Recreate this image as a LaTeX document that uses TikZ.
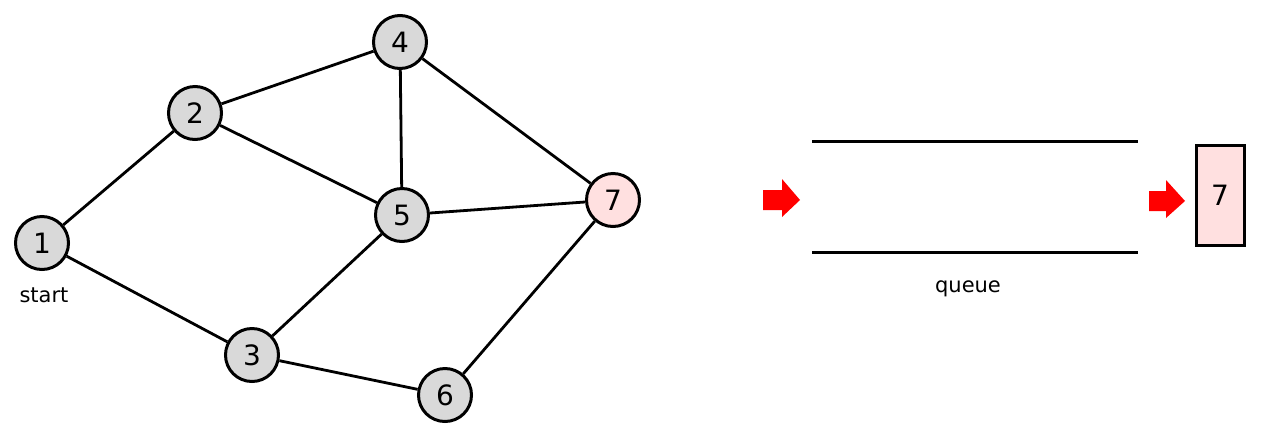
\documentclass[tikz,border=0pt]{standalone}
\usepackage{fontspec}
\setmainfont{DejaVu Sans}
\begin{document}
\begin{tikzpicture}[x=1pt,y=-1pt,
  vert/.style={circle,draw=black,line width=3pt,fill=gray!30,minimum size=53pt,inner sep=0pt,font=\fontsize{28}{30}\selectfont},
  hot/.style={vert,fill=red!12},
  edge/.style={line width=2.8pt},
  qline/.style={line width=3pt},
  redarrow/.style={fill=red,draw=none},
  lbl/.style={font=\fontsize{21}{24}\selectfont}]
\useasboundingbox (0,0) rectangle (1268,440);
\node[vert] (n1) at (42,243) {1};
\node[vert] (n2) at (195,113) {2};
\node[vert] (n4) at (400,42) {4};
\node[vert] (n5) at (402,215) {5};
\node[hot] (n7) at (613,200) {7};
\node[vert] (n3) at (252,355) {3};
\node[vert] (n6) at (445,395) {6};
\node[lbl] (start) at (44,295) {start};
\draw[edge] (n1) -- (n2);
\draw[edge] (n1) -- (n3);
\draw[edge] (n2) -- (n4);
\draw[edge] (n2) -- (n5);
\draw[edge] (n4) -- (n5);
\draw[edge] (n4) -- (n7);
\draw[edge] (n5) -- (n7);
\draw[edge] (n3) -- (n5);
\draw[edge] (n3) -- (n6);
\draw[edge] (n6) -- (n7);
% queue
\coordinate (qtl) at (812,141);
\coordinate (qtr) at (1138,141);
\coordinate (qbl) at (812,252);
\coordinate (qbr) at (1138,252);
\draw[qline] (qtl) -- (qtr);
\draw[qline] (qbl) -- (qbr);
\node[lbl] (qlabel) at (968,289) {queue};
% arrows
\fill[redarrow] (763,190) -- (782,190) -- (782,179) -- (800,200) -- (782,217) -- (782,210) -- (763,210) -- cycle;
\fill[redarrow] (1149,191) -- (1166,191) -- (1166,180) -- (1185,201) -- (1166,218) -- (1166,211) -- (1149,211) -- cycle;
\node[draw=black,line width=3pt,fill=red!12,minimum width=48pt,minimum height=100pt,inner sep=0pt,font=\fontsize{28}{30}\selectfont] (box7) at (1220,195) {7};
\end{tikzpicture}
\end{document}
